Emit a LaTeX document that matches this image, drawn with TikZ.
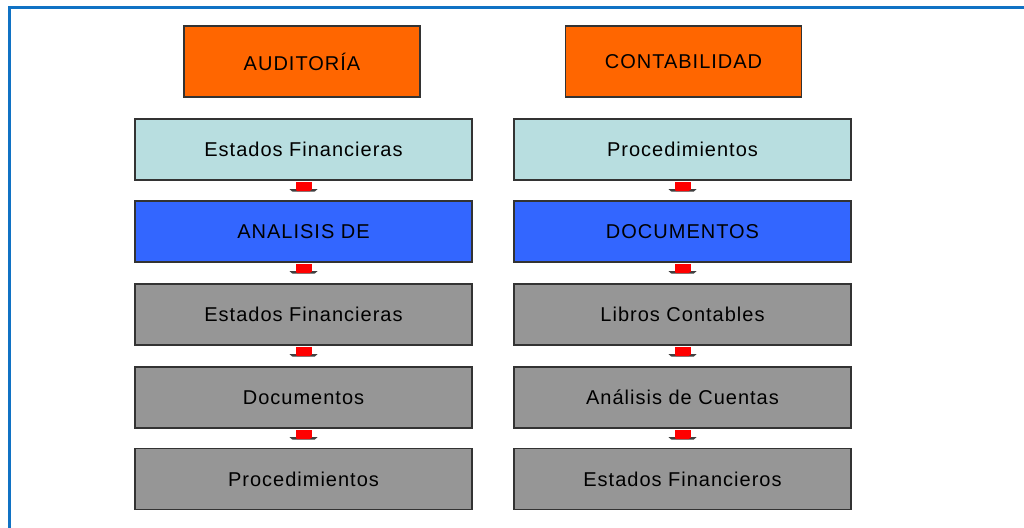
\documentclass[tikz,border=0pt]{standalone}
\usepackage{fontspec}
\setmainfont{Liberation Sans}[LetterSpace=5]
\begin{document}
\begin{tikzpicture}[x=1pt,y=-1pt,
  box/.style={draw=black!80,line width=1.4pt,minimum width=337pt,minimum height=61pt,inner sep=0pt,font=\fontsize{20}{23}\selectfont},
  head/.style={draw=black!80,line width=1.4pt,fill=orangeh,minimum width=236pt,minimum height=71pt,inner sep=0pt,font=\fontsize{20}{23}\selectfont},
  lb/.style={box,fill=lightb},
  bb/.style={box,fill=blueb},
  gb/.style={box,fill=grayb}]
\definecolor{orangeh}{RGB}{255,102,0}
\definecolor{lightb}{RGB}{184,222,224}
\definecolor{blueb}{RGB}{51,102,255}
\definecolor{grayb}{RGB}{150,150,150}
\definecolor{frameblue}{RGB}{16,114,196}
\useasboundingbox (0,0) rectangle (1024,527);
\fill[white] (0,0) rectangle (1024,527);
\draw[frameblue,line width=2.5pt] (9.5,535) -- (9.5,7.5) -- (1030,7.5);
\node[head] (aud) at (302,61.5) {AUDITORÍA};
\node[head] (con) at (683.5,61.5) {CONTABILIDAD};
\node[lb] (l1) at (303.5,149.5) {Estados Financieras};
\node[bb] (l2) at (303.5,231.5) {ANALISIS DE};
\node[gb] (l3) at (303.5,314.5) {Estados Financieras};
\node[gb] (l4) at (303.5,397.5) {Documentos};
\node[gb] (l5) at (303.5,479) {Procedimientos};
\node[lb] (r1) at (682.5,149.5) {Procedimientos};
\node[bb] (r2) at (682.5,231.5) {DOCUMENTOS};
\node[gb] (r3) at (682.5,314.5) {Libros Contables};
\node[gb] (r4) at (682.5,397.5) {Análisis de Cuentas};
\node[gb] (r5) at (682.5,479) {Estados Financieros};
\foreach \a/\b in {l1/l2,l2/l3,l3/l4,l4/l5,r1/r2,r2/r3,r3/r4,r4/r5}{
  \path (\a.south) ++(0,1) coordinate (t);
  \fill[black!75] ([shift={(-14,7.5)}]t) -- ([shift={(14,7.5)}]t) -- ([shift={(11,10)}]t) -- ([shift={(-11,10)}]t) -- cycle;
  \fill[red] ([shift={(-8,0)}]t) rectangle ([shift={(8,8)}]t);
  \fill[red] ([shift={(-8,8)}]t) -- ([shift={(8,8)}]t) -- ([shift={(6,9.5)}]t) -- ([shift={(-6,9.5)}]t) -- cycle;
}
\end{tikzpicture}
\end{document}
